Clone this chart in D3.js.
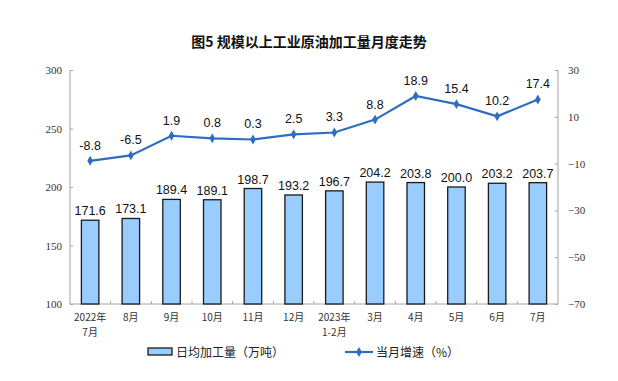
<html>
<head>
<meta charset="utf-8">
<script src="https://cdn.jsdelivr.net/npm/d3@7"></script>
<style>
  body { margin: 0; background: #fff; }
  .axis path, .axis line { stroke: #a6a6a6; }
  .axis text { font-family: "Liberation Serif", "DejaVu Serif", serif; font-size: 11px; fill: #333; }
</style>
</head>
<body>
<script>

var months = ['2022年\n7月', '8月', '9月', '10月', '11月', '12月', '2023年\n1-2月', '3月', '4月', '5月', '6月', '7月'];
var output = [171.6, 173.1, 189.4, 189.1, 198.7, 193.2, 196.7, 204.2, 203.8, 200.0, 203.2, 203.7];
var growth = [-8.8, -6.5, 1.9, 0.8, 0.3, 2.5, 3.3, 8.8, 18.9, 15.4, 10.2, 17.4];
var leftTicks = [100, 150, 200, 250, 300];
var rightTicks = [-70, -50, -30, -10, 10, 30];

var width = 618, height = 381;
var mLeft = 70, mRight = 558, mTop = 70, mBottom = 304;

var svg = d3.select('body').append('svg')
  .attr('width', width)
  .attr('height', height);

svg.append('text')
  .attr('x', 309).attr('y', 47)
  .attr('text-anchor', 'middle')
  .style('font-family', '"Noto Sans CJK SC", sans-serif')
  .style('font-size', '14px')
  .style('font-weight', 'bold')
  .style('fill', '#111')
  .text('图5  规模以上工业原油加工量月度走势');

var x = d3.scaleBand().domain(d3.range(months.length)).range([mLeft, mRight]).paddingInner(0.57).paddingOuter(0.28);
var yL = d3.scaleLinear().domain([100, 300]).range([mBottom, mTop]);
var yR = d3.scaleLinear().domain([-70, 30]).range([mBottom, mTop]);

// axes
var gL = svg.append('g').attr('class', 'axis')
  .attr('transform', 'translate(' + mLeft + ',0)')
  .call(d3.axisRight(yL).tickValues(leftTicks).tickSize(3).tickFormat(d3.format('d')));
gL.selectAll('text').attr('x', -8).attr('text-anchor', 'end');
gL.select('.domain').attr('d', 'M0,' + mTop + 'V' + mBottom);

var gR = svg.append('g').attr('class', 'axis')
  .attr('transform', 'translate(' + mRight + ',0)')
  .call(d3.axisLeft(yR).tickValues(rightTicks).tickSize(3).tickFormat(d3.format('d')));
gR.selectAll('text').attr('x', 10).attr('text-anchor', 'start');
gR.select('.domain').attr('d', 'M0,' + mTop + 'V' + mBottom);

var step = (mRight - mLeft) / months.length;
var gB = svg.append('g').attr('class', 'axis');
gB.append('line').attr('x1', mLeft).attr('x2', mRight).attr('y1', mBottom).attr('y2', mBottom);
gB.selectAll('.tk').data(d3.range(1, months.length)).enter().append('line')
  .attr('x1', function (i) { return mLeft + i * step; })
  .attr('x2', function (i) { return mLeft + i * step; })
  .attr('y1', mBottom).attr('y2', mBottom - 3);

gB.selectAll('.lbl').data(months).enter().append('text')
  .attr('text-anchor', 'middle')
  .attr('transform', function (d, i) { return 'translate(' + (x(i) + x.bandwidth() / 2) + ',' + (mBottom + 17) + ')'; })
  .style('font-family', '"Noto Sans CJK SC", sans-serif')
  .style('font-size', '10px')
  .style('fill', '#333')
  .each(function (d) {
    var t = d3.select(this);
    d.split('\n').forEach(function (s, k) {
      t.append('tspan').attr('x', 0).attr('dy', k ? 14.5 : 0).text(s);
    });
  });

// bars
svg.selectAll('.bar').data(output).enter().append('rect')
  .attr('x', function (d, i) { return x(i); })
  .attr('y', function (d) { return yL(d); })
  .attr('width', x.bandwidth())
  .attr('height', function (d) { return mBottom - yL(d); })
  .style('fill', '#99ccff')
  .style('stroke', '#1a1a1a')
  .style('stroke-width', 1.3);

svg.selectAll('.barlbl').data(output).enter().append('text')
  .attr('x', function (d, i) { return x(i) + x.bandwidth() / 2; })
  .attr('y', function (d) { return yL(d) - 5; })
  .attr('text-anchor', 'middle')
  .style('font-family', '"Liberation Sans", Arial, sans-serif')
  .style('font-size', '12.5px')
  .style('fill', '#111')
  .text(function (d) { return d.toFixed(1); });

// line
var line = d3.line()
  .x(function (d, i) { return x(i) + x.bandwidth() / 2; })
  .y(function (d) { return yR(d); });

svg.append('path').datum(growth)
  .attr('d', line)
  .style('fill', 'none')
  .style('stroke', '#2e6dbf')
  .style('stroke-width', 2.2);

var diamond = d3.symbol().type(d3.symbolDiamond).size(28);
svg.selectAll('.pt').data(growth).enter().append('path')
  .attr('d', diamond)
  .attr('transform', function (d, i) { return 'translate(' + (x(i) + x.bandwidth() / 2) + ',' + yR(d) + ')'; })
  .style('fill', '#2e6dbf');

svg.selectAll('.ptlbl').data(growth).enter().append('text')
  .attr('x', function (d, i) { return x(i) + x.bandwidth() / 2; })
  .attr('y', function (d) { return yR(d) - 11; })
  .attr('text-anchor', 'middle')
  .style('font-family', '"Liberation Sans", Arial, sans-serif')
  .style('font-size', '12.5px')
  .style('fill', '#111')
  .text(function (d) { return d.toFixed(1); });

// legend
var lg = svg.append('g').attr('transform', 'translate(0,352)');
lg.append('rect').attr('x', 148).attr('y', -4).attr('width', 24).attr('height', 7)
  .style('fill', '#99ccff').style('stroke', '#1a1a1a').style('stroke-width', 1.3);
lg.append('text').attr('x', 176).attr('y', 5)
  .style('font-family', '"Noto Sans CJK SC", sans-serif').style('font-size', '12px').style('fill', '#222')
  .text('日均加工量（万吨）');
lg.append('line').attr('x1', 345).attr('x2', 373).attr('y1', 0).attr('y2', 0)
  .style('stroke', '#2e6dbf').style('stroke-width', 2.2);
lg.append('path').attr('d', diamond).attr('transform', 'translate(359,0)').style('fill', '#2e6dbf');
lg.append('text').attr('x', 376).attr('y', 5)
  .style('font-family', '"Noto Sans CJK SC", sans-serif').style('font-size', '12px').style('fill', '#222')
  .text('当月增速（%）');

</script>
</body>
</html>
